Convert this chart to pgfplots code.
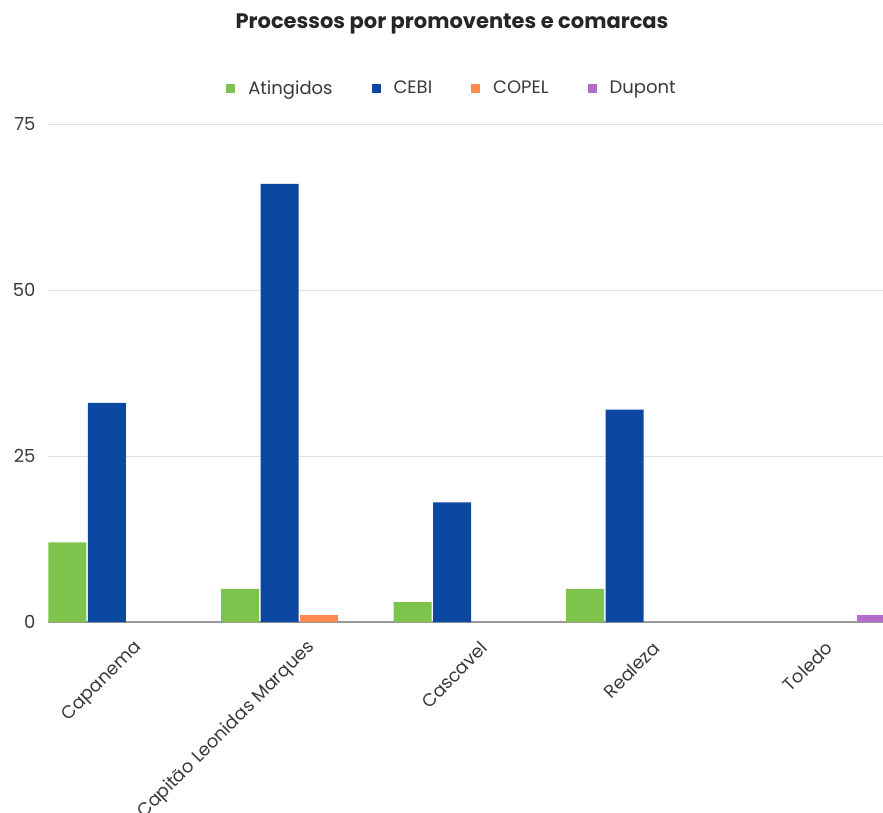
\documentclass[border=0pt]{standalone}
\usepackage{pgfplots}
\pgfplotsset{compat=1.18}
\usepackage{fontspec}
\setmainfont{Poppins}
\definecolor{cAting}{HTML}{7EC34B}
\definecolor{cCebi}{HTML}{0C47A1}
\definecolor{cCopel}{HTML}{FF8A50}
\definecolor{cDupont}{HTML}{B36CC8}
\definecolor{txt}{HTML}{3A3A3A}
\begin{document}
\begin{tikzpicture}[x=1pt,y=1pt]
\path[use as bounding box] (0,0) rectangle (883,812);
\begin{axis}[
  at={(48pt,190pt)}, anchor=south west,
  scale only axis, width=835pt, height=498pt,
  ybar=1.5pt, bar width=38pt,
  xmin=-0.4565, xmax=4.384, ymin=0, ymax=75,
  xtick={0,1,2,3,4},
  xticklabels={Capanema,Capitão Leonidas Marques,Cascavel,Realeza,Toledo},
  ytick={0,25,50,75},
  axis line style={draw=none},
  major tick length=0pt,
  ymajorgrids, grid style={draw=black!12, line width=1pt},
  extra y ticks={0}, extra y tick labels={},
  extra y tick style={grid style={draw=black!40, line width=1.3pt}},
  /pgf/number format/assume math mode=true,
  tick label style={font=\fontsize{18}{21}\selectfont, text=txt},
  yticklabel style={anchor=east, xshift=-9pt},
  xticklabel style={rotate=45, anchor=east, xshift=-4pt, yshift=-25pt},
  legend columns=4,
  legend style={draw=none, at={(rel axis cs:0.4838,1.0723)}, anchor=center,
    font=\fontsize{18}{21}\selectfont, text=txt,
    /tikz/every odd column/.append style={column sep=11pt},
    /tikz/every even column/.append style={column sep=37pt}},
  legend image code/.code={\fill[#1,draw=none] (0pt,-4.5pt) rectangle (9pt,4.5pt);},
]
\addplot[fill=cAting, draw=none] coordinates {(0,12) (1,5) (2,3) (3,5)};
\addlegendentry{Atingidos}
\addplot[fill=cCebi, draw=none] coordinates {(0,33) (1,66) (2,18) (3,32)};
\addlegendentry{CEBI}
\addplot[fill=cCopel, draw=none] coordinates {(1,1)};
\addlegendentry{COPEL}
\addplot[fill=cDupont, draw=none] coordinates {(4,1)};
\addlegendentry{Dupont}
\end{axis}
\node[font=\fontsize{21}{25}\selectfont\bfseries, text=black!85] at (452,788) {Processos por promoventes e comarcas};
\end{tikzpicture}
\end{document}
